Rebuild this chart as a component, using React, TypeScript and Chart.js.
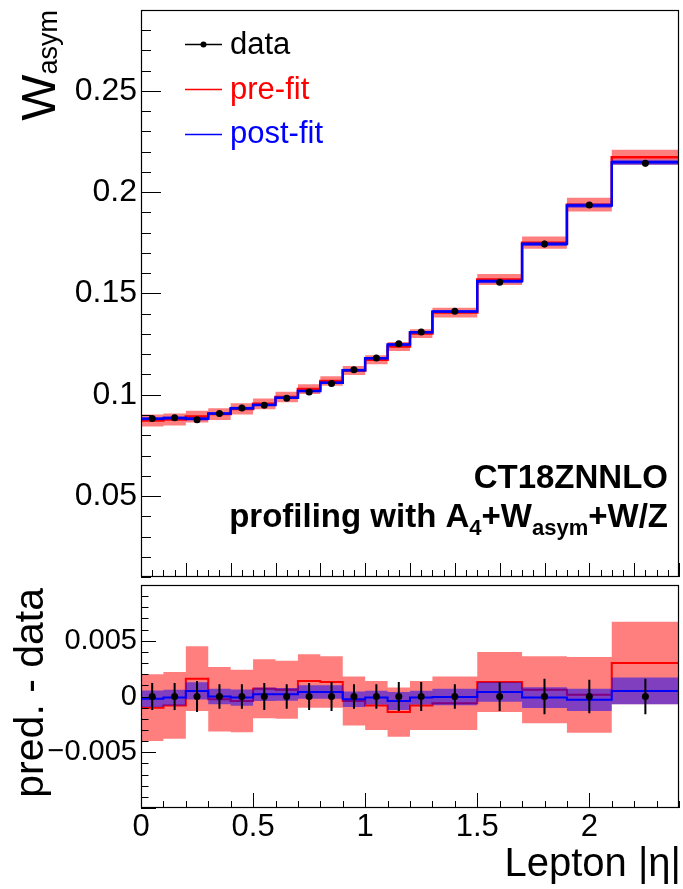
import React, { useEffect, useRef } from "react";
import { Chart, registerables } from "chart.js";

Chart.register(...registerables);

// ---------------- data ----------------
const binEdges = [0, 0.1, 0.2, 0.3, 0.4, 0.5, 0.6, 0.7, 0.8, 0.9, 1.0, 1.1, 1.2, 1.3, 1.5, 1.7, 1.9, 2.1, 2.4];
const wasymData = [0.0883, 0.0886, 0.0876, 0.0907, 0.0934, 0.0948, 0.0983, 0.1014, 0.1055, 0.1124, 0.1181, 0.1252, 0.131, 0.1412, 0.1556, 0.1745, 0.1937, 0.2143];
const dataErr = [0.0012, 0.0012, 0.0014, 0.0011, 0.0011, 0.0012, 0.0011, 0.0012, 0.0013, 0.0011, 0.0011, 0.0013, 0.0013, 0.0011, 0.0013, 0.0016, 0.0015, 0.0016];
const preDiff = [-0.001, -0.0008, 0.0016, -0.00025, -0.0004, 0.0007, 0.0006, 0.0014, 0.0013, -0.0004, -0.0008, -0.0014, -0.0008, -0.0006, 0.0013, 0.0006, 0.00015, 0.003];
const preErr = [0.003, 0.003, 0.0029, 0.0029, 0.0028, 0.00265, 0.0026, 0.0024, 0.0023, 0.0022, 0.0022, 0.0022, 0.0022, 0.0024, 0.0027, 0.003, 0.0034, 0.0037];
const postDiff = [-0.0002, -0.0001, 0.0005, 0.0, -0.0001, 0.0002, 0.0002, 0.0004, 0.0004, -0.00025, -0.0001, -0.0004, -0.0001, -0.00005, 0.0004, -0.0001, -0.0003, 0.0005];
const postErr = [0.00074, 0.0007, 0.00078, 0.0007, 0.00072, 0.0006, 0.00057, 0.0006, 0.0006, 0.0007, 0.00062, 0.0008, 0.00062, 0.00074, 0.00088, 0.00094, 0.001, 0.0012];

const topYTicks = [0.05, 0.1, 0.15, 0.2, 0.25];
const topYTickLabels = ["0.05", "0.1", "0.15", "0.2", "0.25"];
const bottomYTicks = [-0.005, 0, 0.005];
const bottomYTickLabels = ["\u22120.005", "0", "0.005"];
const xTicks = [0, 0.5, 1, 1.5, 2];
const xTickLabels = ["0", "0.5", "1", "1.5", "2"];

const legendLabels = ["data", "pre-fit", "post-fit"];
const annotationTitle = "CT18ZNNLO";

const F = '"Liberation Sans", Arial, Helvetica, sans-serif';
const RED = "#ff0000";
const BLUE = "#0000ff";
const RED_BAND = "rgba(255,0,0,0.5)";
const BLUE_BAND = "rgba(0,0,255,0.5)";

const centers = binEdges.slice(0, -1).map((e, i) => (e + binEdges[i + 1]) / 2);

function stepPoints(vals: number[]) {
  const pts: { x: number; y: number }[] = [];
  vals.forEach((v, i) => {
    pts.push({ x: binEdges[i], y: v });
    pts.push({ x: binEdges[i + 1], y: v });
  });
  return pts;
}

function labelFor(ticks: number[], labels: string[]) {
  return (value: any) => {
    const i = ticks.findIndex((t) => Math.abs(t - Number(value)) < 1e-9);
    return i >= 0 ? labels[i] : "";
  };
}

function buildDatasets(dataY: number[], preY: number[], postY: number[], lw: number) {
  const base = { pointRadius: 0, tension: 0, fill: false as any };
  return [
    {
      ...base,
      data: centers.map((c, i) => ({ x: c, y: dataY[i] })),
      showLine: false,
      pointRadius: 3.5,
      pointBackgroundColor: "#000",
      pointBorderColor: "#000",
      pointBorderWidth: 0,
    },
    { ...base, data: stepPoints(postY), borderColor: BLUE, borderWidth: lw },
    {
      ...base,
      data: stepPoints(postY.map((v, i) => v + postErr[i])),
      borderWidth: 0,
      borderColor: "rgba(0,0,0,0)",
      backgroundColor: BLUE_BAND,
      fill: "+1",
    },
    { ...base, data: stepPoints(postY.map((v, i) => v - postErr[i])), borderWidth: 0, borderColor: "rgba(0,0,0,0)" },
    { ...base, data: stepPoints(preY), borderColor: RED, borderWidth: lw },
    {
      ...base,
      data: stepPoints(preY.map((v, i) => v + preErr[i])),
      borderWidth: 0,
      borderColor: "rgba(0,0,0,0)",
      backgroundColor: RED_BAND,
      fill: "+1",
    },
    { ...base, data: stepPoints(preY.map((v, i) => v - preErr[i])), borderWidth: 0, borderColor: "rgba(0,0,0,0)" },
  ];
}

function errorBarPlugin(vals: number[]) {
  return {
    id: "errbars",
    beforeDatasetDraw(chart: any, args: any) {
      if (args.index !== 0) return;
      const { ctx, scales } = chart;
      const x = scales.x;
      const y = scales.y;
      ctx.save();
      ctx.strokeStyle = "#000";
      ctx.lineWidth = 2;
      ctx.beginPath();
      centers.forEach((c, i) => {
        const px = x.getPixelForValue(c);
        ctx.moveTo(px, y.getPixelForValue(vals[i] - dataErr[i]));
        ctx.lineTo(px, y.getPixelForValue(vals[i] + dataErr[i]));
      });
      ctx.stroke();
      ctx.restore();
    },
  };
}

type AxisCfg = {
  xMin: number; xMax: number; xMinor: number; xMajor: number; xMajLen: number; xMinLen: number;
  yMin: number; yMax: number; yMinor: number; yMajor: number; yMajLen: number; yMinLen: number;
};

function framePlugin(c: AxisCfg) {
  return {
    id: "frame",
    afterDatasetsDraw(chart: any) {
      const { ctx, chartArea: a, scales } = chart;
      const x = scales.x;
      const y = scales.y;
      ctx.save();
      ctx.strokeStyle = "#000";
      ctx.lineWidth = 1;
      ctx.beginPath();
      const nx = Math.round((c.xMax - c.xMin) / c.xMinor);
      for (let k = 0; k <= nx; k++) {
        const v = c.xMin + k * c.xMinor;
        const r = v / c.xMajor;
        const major = Math.abs(r - Math.round(r)) < 1e-6;
        const px = Math.round(x.getPixelForValue(v)) + 0.5;
        ctx.moveTo(px, a.bottom);
        ctx.lineTo(px, a.bottom - (major ? c.xMajLen : c.xMinLen));
      }
      const ny = Math.round((c.yMax - c.yMin) / c.yMinor);
      for (let k = 0; k <= ny; k++) {
        const v = c.yMin + k * c.yMinor;
        const r = v / c.yMajor;
        const major = Math.abs(r - Math.round(r)) < 1e-6;
        const py = Math.round(y.getPixelForValue(v)) + 0.5;
        ctx.moveTo(a.left, py);
        ctx.lineTo(a.left + (major ? c.yMajLen : c.yMinLen), py);
      }
      ctx.stroke();
      ctx.lineWidth = 1.2;
      ctx.strokeRect(a.left + 0.5, a.top + 0.5, a.right - a.left - 1, a.bottom - a.top - 1);
      ctx.restore();
    },
  };
}

const topTextPlugin = {
  id: "topText",
  afterDraw(chart: any) {
    const ctx = chart.ctx as CanvasRenderingContext2D;
    ctx.save();
    ctx.textBaseline = "alphabetic";
    ctx.textAlign = "left";
    // y title W_asym (rotated)
    ctx.translate(55, 10);
    ctx.rotate(-Math.PI / 2);
    ctx.font = `49px ${F}`;
    const wW = ctx.measureText("W").width;
    ctx.font = `27px ${F}`;
    const wS = ctx.measureText("asym").width;
    ctx.fillStyle = "#000";
    ctx.font = `49px ${F}`;
    ctx.fillText("W", -(wW + wS), 0);
    ctx.font = `27px ${F}`;
    ctx.fillText("asym", -wS, 2);
    ctx.restore();

    // legend
    ctx.save();
    ctx.lineWidth = 1.6;
    const rows = [
      { y: 44, base: 54, color: "#000", dot: true },
      { y: 89, base: 99, color: RED, dot: false },
      { y: 134, base: 143, color: BLUE, dot: false },
    ];
    rows.forEach((r, i) => {
      ctx.strokeStyle = r.color;
      ctx.beginPath();
      ctx.moveTo(185, r.y + 0.5);
      ctx.lineTo(222, r.y + 0.5);
      ctx.stroke();
      if (r.dot) {
        ctx.fillStyle = "#000";
        ctx.beginPath();
        ctx.arc(203.5, r.y + 0.5, 3, 0, Math.PI * 2);
        ctx.fill();
      }
      ctx.fillStyle = r.color;
      ctx.font = `31px ${F}`;
      ctx.textAlign = "left";
      ctx.textBaseline = "alphabetic";
      ctx.fillText(legendLabels[i], 230, r.base);
    });
    ctx.restore();

    // annotation
    ctx.save();
    ctx.fillStyle = "#000";
    ctx.textBaseline = "alphabetic";
    ctx.textAlign = "right";
    ctx.font = `bold 33px ${F}`;
    ctx.fillText(annotationTitle, 668, 488);
    const parts = [
      { t: "profiling with A", s: 33, dy: 0 },
      { t: "4", s: 22, dy: 8 },
      { t: "+W", s: 33, dy: 0 },
      { t: "asym", s: 22, dy: 8 },
      { t: "+W/Z", s: 33, dy: 0 },
    ];
    ctx.textAlign = "left";
    let total = 0;
    parts.forEach((p) => {
      ctx.font = `bold ${p.s}px ${F}`;
      total += ctx.measureText(p.t).width;
    });
    let xPos = 668 - total;
    parts.forEach((p) => {
      ctx.font = `bold ${p.s}px ${F}`;
      ctx.fillText(p.t, xPos, 527 + p.dy);
      xPos += ctx.measureText(p.t).width;
    });
    ctx.restore();
  },
};

const bottomTextPlugin = {
  id: "bottomText",
  afterDraw(chart: any) {
    const ctx = chart.ctx as CanvasRenderingContext2D;
    ctx.save();
    ctx.fillStyle = "#000";
    ctx.textBaseline = "alphabetic";
    ctx.translate(43, 7);
    ctx.rotate(-Math.PI / 2);
    ctx.textAlign = "right";
    ctx.font = `41px ${F}`;
    ctx.fillText("pred. - data", 0, 0);
    ctx.restore();

    ctx.save();
    ctx.fillStyle = "#000";
    ctx.textBaseline = "alphabetic";
    ctx.textAlign = "right";
    ctx.font = `40px ${F}`;
    ctx.fillText("Lepton |\u03b7|", 681, 295);
    ctx.restore();
  },
};

export default function App() {
  const topRef = useRef<HTMLCanvasElement | null>(null);
  const botRef = useRef<HTMLCanvasElement | null>(null);

  useEffect(() => {
    if (!topRef.current || !botRef.current) return;

    const preTop = wasymData.map((v, i) => v + preDiff[i]);
    const postTop = wasymData.map((v, i) => v + postDiff[i]);

    const top = new Chart(topRef.current, {
      type: "line",
      data: { datasets: buildDatasets(wasymData, preTop, postTop, 2.5) as any },
      options: {
        responsive: false,
        animation: false,
        devicePixelRatio: 1,
        events: [],
        layout: { padding: { top: 10, right: 1, bottom: 3, left: 0 } },
        plugins: { legend: { display: false }, tooltip: { enabled: false } },
        scales: {
          x: { type: "linear", min: 0, max: 2.4, display: false },
          y: {
            type: "linear",
            min: 0.01,
            max: 0.29,
            grid: { display: false, drawTicks: false },
            border: { display: false },
            ticks: {
              font: { family: F, size: 32 },
              color: "#000",
              padding: 4,
              autoSkip: false,
              callback: labelFor(topYTicks, topYTickLabels),
            },
            afterBuildTicks: (s: any) => {
              s.ticks = topYTicks.map((v) => ({ value: v }));
            },
            afterFit: (s: any) => {
              s.width = 141;
              s.paddingTop = 0;
              s.paddingBottom = 0;
            },
          },
        },
      } as any,
      plugins: [
        errorBarPlugin(wasymData),
        framePlugin({
          xMin: 0, xMax: 2.4, xMinor: 0.05, xMajor: 0.2, xMajLen: 14, xMinLen: 7,
          yMin: 0.01, yMax: 0.29, yMinor: 0.01, yMajor: 0.05, yMajLen: 20, yMinLen: 10,
        }),
        topTextPlugin,
      ],
    });

    const zeros = wasymData.map(() => 0);
    const bot = new Chart(botRef.current, {
      type: "line",
      data: { datasets: buildDatasets(zeros, preDiff, postDiff, 2) as any },
      options: {
        responsive: false,
        animation: false,
        devicePixelRatio: 1,
        events: [],
        layout: { padding: { top: 3, right: 1, bottom: 0, left: 0 } },
        plugins: { legend: { display: false }, tooltip: { enabled: false } },
        scales: {
          x: {
            type: "linear",
            min: 0,
            max: 2.4,
            grid: { display: false, drawTicks: false },
            border: { display: false },
            ticks: {
              font: { family: F, size: 31 },
              color: "#000",
              padding: 1,
              autoSkip: false,
              maxRotation: 0,
              minRotation: 0,
              callback: labelFor(xTicks, xTickLabels),
            },
            afterBuildTicks: (s: any) => {
              s.ticks = xTicks.map((v) => ({ value: v }));
            },
            afterFit: (s: any) => {
              s.height = 81;
              s.paddingLeft = 0;
              s.paddingRight = 0;
            },
          },
          y: {
            type: "linear",
            min: -0.01,
            max: 0.01,
            grid: { display: false, drawTicks: false },
            border: { display: false },
            ticks: {
              font: { family: F, size: 29 },
              color: "#000",
              padding: 4,
              autoSkip: false,
              callback: labelFor(bottomYTicks, bottomYTickLabels),
            },
            afterBuildTicks: (s: any) => {
              s.ticks = bottomYTicks.map((v) => ({ value: v }));
            },
            afterFit: (s: any) => {
              s.width = 141;
              s.paddingTop = 0;
              s.paddingBottom = 0;
            },
          },
        },
      } as any,
      plugins: [
        errorBarPlugin(zeros),
        framePlugin({
          xMin: 0, xMax: 2.4, xMinor: 0.1, xMajor: 0.5, xMajLen: 15, xMinLen: 7,
          yMin: -0.01, yMax: 0.01, yMinor: 0.001, yMajor: 0.005, yMajLen: 15, yMinLen: 7.5,
        }),
        bottomTextPlugin,
      ],
    });

    return () => {
      top.destroy();
      bot.destroy();
    };
  }, []);

  return (
    <div style={{ position: "absolute", left: 0, top: 0, width: 683, height: 889, background: "#fff" }}>
      <canvas ref={topRef} width={683} height={581} style={{ position: "absolute", left: 0, top: 0, width: 683, height: 581 }} />
      <canvas ref={botRef} width={683} height={308} style={{ position: "absolute", left: 0, top: 581, width: 683, height: 308 }} />
    </div>
  );
}
